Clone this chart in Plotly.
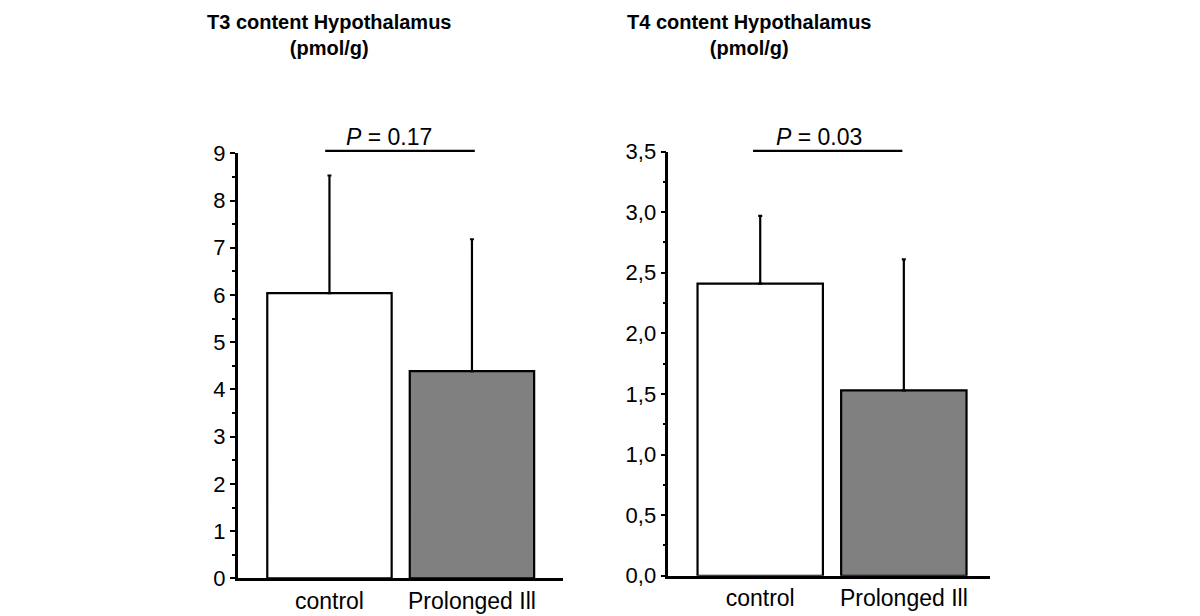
import plotly.graph_objects as go

categories = ["control", "Prolonged Ill"]
t3_means = [6.04, 4.39]
t3_sd = [2.49, 2.79]
t4_means = [2.41, 1.53]
t4_sd = [0.56, 1.08]
bar_colors = ["#ffffff", "#808080"]

W, H = 1200, 616

def px_x(p):
    return (p - 8) / W

def px_y(p):
    yi = (p - 17.4) / 0.9666
    return (H - yi) / H

fig = go.Figure()

fig.add_trace(go.Bar(
    x=categories, y=t3_means, width=0.873,
    marker=dict(color=bar_colors, line=dict(color="black", width=2.2)),
    error_y=dict(type="data", array=t3_sd, arrayminus=[0, 0], symmetric=False,
                 color="black", thickness=2.2, width=2),
    xaxis="x", yaxis="y", showlegend=False,
))
fig.add_trace(go.Bar(
    x=categories, y=t4_means, width=0.873,
    marker=dict(color=bar_colors, line=dict(color="black", width=2.2)),
    error_y=dict(type="data", array=t4_sd, arrayminus=[0, 0], symmetric=False,
                 color="black", thickness=2.2, width=2),
    xaxis="x2", yaxis="y2", showlegend=False,
))

tickfont = dict(family="Liberation Sans, Arial, sans-serif", size=22, color="black")
catfont = dict(family="Liberation Sans, Arial, sans-serif", size=23, color="black")

xcommon = dict(type="category", showline=True, linecolor="black", linewidth=2.5,
               ticks="", showgrid=False, zeroline=False, tickfont=catfont)
ycommon = dict(showline=True, linecolor="black", linewidth=2.5, ticks="outside",
               ticklen=5, tickwidth=2, tickcolor="black", showgrid=False,
               zeroline=False, tickfont=tickfont)

fig.update_layout(
    width=W, height=H, margin=dict(l=0, r=0, t=0, b=0),
    paper_bgcolor="white", plot_bgcolor="white",
    separators=",.",
    xaxis=dict(domain=[px_x(237.7), px_x(563)], range=[-0.644, 1.639], anchor="y", **xcommon),
    yaxis=dict(domain=[px_y(580), px_y(151.7)], range=[0, 9], dtick=1, anchor="x",
               minor=dict(dtick=0.5, ticks="outside", ticklen=3, tickwidth=2, tickcolor="black"),
               **ycommon),
    xaxis2=dict(domain=[px_x(668.3), px_x(990)], range=[-0.64, 1.6], anchor="y2", **xcommon),
    yaxis2=dict(domain=[px_y(577.3), px_y(150)], range=[0, 3.5], dtick=0.5, anchor="x2",
                tickformat=".1f",
                minor=dict(dtick=0.25, ticks="outside", ticklen=3, tickwidth=2, tickcolor="black"),
                **ycommon),
)

# significance lines
fig.add_shape(type="line", xref="x", yref="paper", x0=-0.03, x1=1.02,
              y0=px_y(149.3), y1=px_y(149.3), line=dict(color="black", width=2.2))
fig.add_shape(type="line", xref="x2", yref="paper", x0=-0.05, x1=0.99,
              y0=px_y(149.3), y1=px_y(149.3), line=dict(color="black", width=2.2))

pfont = dict(family="Liberation Sans, Arial, sans-serif", size=23, color="black")
fig.add_annotation(x=0.42, xref="x", y=px_y(135.5), yref="paper", text="<i>P</i> = 0.17",
                   showarrow=False, font=pfont, xanchor="center", yanchor="middle")
fig.add_annotation(x=0.41, xref="x2", y=px_y(135.5), yref="paper", text="<i>P</i> = 0.03",
                   showarrow=False, font=pfont, xanchor="center", yanchor="middle")

titlefont = dict(family="Liberation Sans Narrow, Arial Narrow, Liberation Sans, sans-serif",
                 size=20, color="black")
fig.add_annotation(x=px_x(329), xref="paper", y=px_y(33), yref="paper",
                   text="<b>T3 content Hypothalamus</b><br><b>(pmol/g)</b>",
                   showarrow=False, font=titlefont, xanchor="center", yanchor="middle",
                   align="center")
fig.add_annotation(x=px_x(749), xref="paper", y=px_y(33), yref="paper",
                   text="<b>T4 content Hypothalamus</b><br><b>(pmol/g)</b>",
                   showarrow=False, font=titlefont, xanchor="center", yanchor="middle",
                   align="center")

fig.write_html("out.html")
